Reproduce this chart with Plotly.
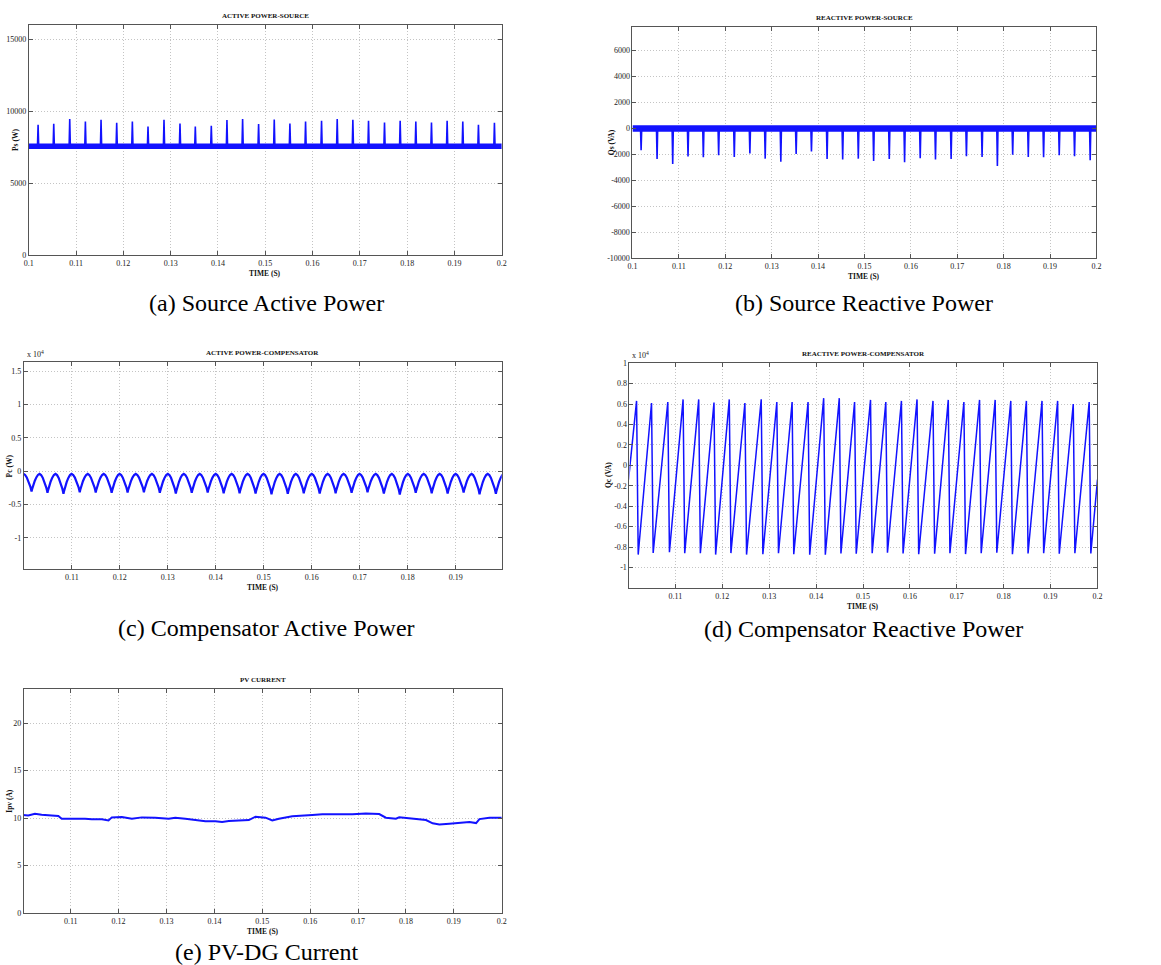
import plotly.graph_objects as go

# ------------------------------------------------------------------ data
# (a) source active power: baseline band and spike peaks (W)
ps_base_w = 7570
ps_spike_t = [0.10197, 0.10528, 0.10866, 0.11197, 0.11528, 0.11859, 0.12190, 0.12521, 0.12859, 0.13197,
              0.13521, 0.13859, 0.14190, 0.14521, 0.14859, 0.15190, 0.15521, 0.15852, 0.16190, 0.16521,
              0.16852, 0.17183, 0.17521, 0.17852, 0.18183, 0.18514, 0.18845, 0.19176, 0.19507, 0.19845]
ps_spike_w = [9070, 9140, 9465, 9302, 9419, 9209, 9302, 8953, 9419, 9163,
              8953, 9000, 9395, 9465, 9116, 9442, 9163, 9302, 9349, 9465,
              9419, 9349, 9233, 9349, 9302, 9233, 9349, 9302, 9070, 9209]

# (b) source reactive power: baseline band and negative spikes (VA)
qs_base_va = 0
qs_spike_t = [0.10186, 0.10530, 0.10867, 0.11197, 0.11527, 0.11857, 0.12194, 0.12530, 0.12860, 0.13197,
              0.13527, 0.13857, 0.14194, 0.14530, 0.14867, 0.15197, 0.15534, 0.15864, 0.16201, 0.16530,
              0.16867, 0.17197, 0.17534, 0.17864, 0.18194, 0.18530, 0.18860, 0.19197, 0.19527, 0.19864]
qs_spike_va = [-1680, -2350, -2740, -2170, -2220, -2070, -2200, -1940, -2330, -2560,
               -1965, -1785, -2350, -2400, -2330, -2510, -2350, -2610, -2300, -2400,
               -2350, -2150, -2200, -2900, -2020, -2200, -2220, -2070, -2150, -2460]

# (c) compensator active power (x 10^4 W): cusp instants and depths, arch top
pc_cusp_t = [0.09828, 0.10162, 0.10494, 0.10827, 0.11166, 0.11499, 0.11831, 0.12163, 0.12503, 0.12835,
             0.13168, 0.13500, 0.13832, 0.14165, 0.14497, 0.14830, 0.15162, 0.15501, 0.15834, 0.16166,
             0.16498, 0.16831, 0.17163, 0.17503, 0.17835, 0.18167, 0.18500, 0.18832, 0.19165, 0.19497,
             0.19837, 0.20171]
pc_cusp_v = [-0.31, -0.305, -0.325, -0.34, -0.315, -0.32, -0.325, -0.32, -0.315, -0.325,
             -0.335, -0.325, -0.32, -0.33, -0.33, -0.335, -0.345, -0.34, -0.33, -0.335,
             -0.33, -0.325, -0.315, -0.335, -0.35, -0.325, -0.33, -0.335, -0.32, -0.345,
             -0.34, -0.33]
pc_top_v = -0.04
pc_arch_phase = [0.0, 0.03, 0.07, 0.12, 0.2, 0.3, 0.4, 0.5, 0.6, 0.7, 0.8, 0.88, 0.93, 0.97, 1.0]
pc_arch_frac = [1.0, 0.88, 0.74, 0.59, 0.40, 0.20, 0.06, 0.0, 0.06, 0.20, 0.40, 0.59, 0.74, 0.88, 1.0]

# (d) compensator reactive power (x 10^4 VA): sawtooth peaks / troughs
qc_start_t, qc_start_v = 0.1, -0.14
qc_end_t, qc_end_v = 0.2, -0.14
qc_peak_t = [0.10171, 0.10490, 0.10837, 0.11163, 0.11496, 0.11822, 0.12148, 0.12481, 0.12829, 0.13162,
             0.13488, 0.13828, 0.14161, 0.14494, 0.14820, 0.15160, 0.15486, 0.15819, 0.16152, 0.16492,
             0.16818, 0.17151, 0.17485, 0.17818, 0.18151, 0.18484, 0.18817, 0.19150, 0.19483, 0.19823]
qc_peak_v = [0.63, 0.61, 0.62, 0.645, 0.645, 0.615, 0.645, 0.61, 0.647, 0.62,
             0.62, 0.62, 0.657, 0.657, 0.62, 0.64, 0.62, 0.63, 0.645, 0.63,
             0.64, 0.62, 0.64, 0.64, 0.63, 0.63, 0.63, 0.63, 0.60, 0.62]
qc_trough_v = [-0.873, -0.856, -0.85, -0.86, -0.86, -0.873, -0.858, -0.873, -0.87, -0.86,
               -0.87, -0.875, -0.875, -0.862, -0.865, -0.86, -0.855, -0.862, -0.87, -0.865,
               -0.86, -0.868, -0.86, -0.855, -0.87, -0.862, -0.86, -0.865, -0.86, -0.862]
qc_drop_s = 0.00035

# (e) PV current (A)
ipv_t = [0.1, 0.10114, 0.10253, 0.10393, 0.10602, 0.10742, 0.10812, 0.10951, 0.11160, 0.11300,
         0.11440, 0.11649, 0.11789, 0.11858, 0.12068, 0.12277, 0.12486, 0.12765, 0.13045, 0.13184,
         0.13393, 0.13603, 0.13812, 0.14021, 0.14161, 0.14301, 0.14580, 0.14719, 0.14859, 0.15068,
         0.15208, 0.15347, 0.15626, 0.15836, 0.16045, 0.16254, 0.16534, 0.16882, 0.17162, 0.17301,
         0.17441, 0.17580, 0.17790, 0.17859, 0.18138, 0.18418, 0.18557, 0.18697, 0.18906, 0.19115,
         0.19325, 0.19464, 0.19534, 0.19743, 0.2]
ipv_a = [10.32, 10.28, 10.46, 10.35, 10.28, 10.21, 9.93, 9.93, 10.0, 9.93,
         9.86, 9.86, 9.75, 10.07, 10.1, 9.93, 10.07, 10.04, 9.93, 10.04,
         9.93, 9.79, 9.65, 9.65, 9.58, 9.68, 9.79, 9.79, 10.14, 10.04,
         9.75, 9.93, 10.18, 10.28, 10.32, 10.39, 10.39, 10.39, 10.49, 10.49,
         10.42, 10.04, 9.93, 10.07, 9.96, 9.79, 9.44, 9.33, 9.40, 9.47,
         9.58, 9.47, 9.89, 10.04, 10.04]

# ticks
time_ticks = [0.1, 0.11, 0.12, 0.13, 0.14, 0.15, 0.16, 0.17, 0.18, 0.19, 0.2]
time_labels = ["0.1", "0.11", "0.12", "0.13", "0.14", "0.15", "0.16", "0.17", "0.18", "0.19", "0.2"]
ps_ticks = [0, 5000, 10000, 15000]
qs_ticks = [-10000, -8000, -6000, -4000, -2000, 0, 2000, 4000, 6000]
pc_ticks = [-1, -0.5, 0, 0.5, 1, 1.5]
pc_labels = ["-1", "-0.5", "0", "0.5", "1", "1.5"]
qc_ticks = [-1, -0.8, -0.6, -0.4, -0.2, 0, 0.2, 0.4, 0.6, 0.8, 1]
qc_labels = ["-1", "-0.8", "-0.6", "-0.4", "-0.2", "0", "0.2", "0.4", "0.6", "0.8", "1"]
ipv_ticks = [0, 5, 10, 15, 20]

titles = ["ACTIVE POWER-SOURCE", "REACTIVE POWER-SOURCE", "ACTIVE POWER-COMPENSATOR",
          "REACTIVE POWER-COMPENSATOR", "PV CURRENT"]
ylabels = ["Ps (W)", "Qs (VA)", "Pc (W)", "Qc (VA)", "Ipv (A)"]
captions = ["(a) Source Active Power", "(b) Source Reactive Power", "(c) Compensator Active Power",
            "(d) Compensator Reactive Power", "(e) PV-DG Current"]

# ------------------------------------------------------------------ build
W, H = 1161, 965
BLUE = "rgb(18,18,255)"
SPIKE_HALF = 0.00013

# the page photograph shows the figure slightly reduced around a small border;
# map target pixel positions to figure pixels to compensate
SX, OX = 0.9935, 3.2
SY, OY = 0.991, 2.8


def fx(p):
    return (p / SX - OX) / W


def fy(p):
    return 1 - (p / SY - OY) / H


def spikes(base, times, vals):
    xs, ys = [], []
    for t, v in zip(times, vals):
        xs += [t - SPIKE_HALF, t, t + SPIKE_HALF, None]
        ys += [base, v, base, None]
    return xs, ys


fig = go.Figure()

# (a)
fig.add_trace(go.Scatter(x=[time_ticks[0], time_ticks[-1]], y=[ps_base_w, ps_base_w], mode="lines",
                         line=dict(color=BLUE, width=5.5), xaxis="x", yaxis="y", showlegend=False))
sx, sy = spikes(ps_base_w, ps_spike_t, ps_spike_w)
fig.add_trace(go.Scatter(x=sx, y=sy, mode="lines", line=dict(color=BLUE, width=1.6),
                         xaxis="x", yaxis="y", showlegend=False))

# (b)
fig.add_trace(go.Scatter(x=[time_ticks[0], time_ticks[-1]], y=[qs_base_va, qs_base_va], mode="lines",
                         line=dict(color=BLUE, width=6.5), xaxis="x2", yaxis="y2", showlegend=False))
sx, sy = spikes(qs_base_va, qs_spike_t, qs_spike_va)
fig.add_trace(go.Scatter(x=sx, y=sy, mode="lines", line=dict(color=BLUE, width=1.6),
                         xaxis="x2", yaxis="y2", showlegend=False))

# (c) arches between consecutive cusps
cx, cy = [], []
for i in range(len(pc_cusp_t) - 1):
    t0, t1 = pc_cusp_t[i], pc_cusp_t[i + 1]
    v0, v1 = pc_cusp_v[i], pc_cusp_v[i + 1]
    for ph, fr in zip(pc_arch_phase, pc_arch_frac):
        if i > 0 and ph == 0.0:
            continue
        depth = v0 if ph < 0.5 else v1
        cx.append(t0 + ph * (t1 - t0))
        cy.append(pc_top_v + fr * (depth - pc_top_v))
fig.add_trace(go.Scatter(x=cx, y=cy, mode="lines", line=dict(color=BLUE, width=2.2),
                         xaxis="x3", yaxis="y3", showlegend=False))

# (d) sawtooth
dx, dy = [qc_start_t], [qc_start_v]
for t, pv, tv in zip(qc_peak_t, qc_peak_v, qc_trough_v):
    dx += [t, t + qc_drop_s]
    dy += [pv, tv]
dx.append(qc_end_t)
dy.append(qc_end_v)
fig.add_trace(go.Scatter(x=dx, y=dy, mode="lines", line=dict(color=BLUE, width=1.5),
                         xaxis="x4", yaxis="y4", showlegend=False))

# (e)
fig.add_trace(go.Scatter(x=ipv_t, y=ipv_a, mode="lines", line=dict(color=BLUE, width=2.0),
                         xaxis="x5", yaxis="y5", showlegend=False))

# ------------------------------------------------------------------ axes
# plot-area boxes in target pixels: (left, right, top, bottom)
boxes = [(27, 501, 24, 254), (632, 1097, 26, 257), (22, 501, 361, 568),
         (629, 1098, 362, 587), (22, 501, 688, 912)]
xranges = [[0.1, 0.2], [0.1, 0.2], [0.1, 0.1996], [0.1002, 0.2], [0.1002, 0.2]]
yranges = [[0, 16000], [-10000, 7800], [-1.47, 1.64], [-1.2, 1.0], [0, 23.6]]
xtick_sets = [(time_ticks, time_labels), (time_ticks, time_labels),
              (time_ticks[1:10], time_labels[1:10]), (time_ticks[1:], time_labels[1:]),
              (time_ticks[1:], time_labels[1:])]
ytick_sets = [(ps_ticks, [str(v) for v in ps_ticks]), (qs_ticks, [str(v) for v in qs_ticks]),
              (pc_ticks, pc_labels), (qc_ticks, qc_labels), (ipv_ticks, [str(v) for v in ipv_ticks])]

tickfont = dict(family="Liberation Serif", size=8, color="#222")
axis_common = dict(showline=True, linecolor="#555", linewidth=1, mirror="ticks", ticks="inside",
                   ticklen=4, tickcolor="#555", showgrid=True, gridcolor="#c4c4c4", griddash="1px,2px",
                   gridwidth=1, zeroline=False, tickfont=tickfont, fixedrange=True)

layout_axes = {}
annotations = []
for i, (l, r, t, b) in enumerate(boxes):
    n = "" if i == 0 else str(i + 1)
    layout_axes["xaxis" + n] = dict(axis_common, domain=[fx(l), fx(r)], range=xranges[i],
                                    anchor="y" + n, tickvals=xtick_sets[i][0], ticktext=xtick_sets[i][1])
    layout_axes["yaxis" + n] = dict(axis_common, domain=[fy(b), fy(t)], range=yranges[i],
                                    anchor="x" + n, tickvals=ytick_sets[i][0], ticktext=ytick_sets[i][1])
    cxp = (l + r) / 2
    annotations.append(dict(text="<b>" + titles[i] + "</b>", x=fx(cxp), y=fy(t - 9),
                            xref="paper", yref="paper", showarrow=False, xanchor="center",
                            yanchor="middle", font=dict(family="Liberation Serif", size=7, color="#111")))
    annotations.append(dict(text="<b>TIME (S)</b>", x=fx(cxp), y=fy(b + 18.5),
                            xref="paper", yref="paper", showarrow=False, xanchor="center",
                            yanchor="middle", font=dict(family="Liberation Serif", size=7.5, color="#111")))
    annotations.append(dict(text="<b>" + ylabels[i] + "</b>", x=fx(l - (14 if i in (0, 2, 4) else 21)),
                            y=fy((t + b) / 2), xref="paper", yref="paper", showarrow=False,
                            xanchor="center", yanchor="middle", textangle=-90,
                            font=dict(family="Liberation Serif", size=7.5, color="#111")))

# captions
cap_pos = [(265, 302), (864, 302), (265, 627), (864, 628), (265, 951)]
for txt, (px, py) in zip(captions, cap_pos):
    annotations.append(dict(text=txt, x=fx(px), y=fy(py), xref="paper", yref="paper",
                            showarrow=False, xanchor="center", yanchor="middle",
                            font=dict(family="Liberation Serif", size=24, color="#000")))

# x 10^4 multipliers
for px, py in [(23, 353), (630, 354)]:
    annotations.append(dict(text="x 10<sup>4</sup>", x=fx(px), y=fy(py), xref="paper", yref="paper",
                            showarrow=False, xanchor="left", yanchor="middle",
                            font=dict(family="Liberation Serif", size=8, color="#222")))

fig.update_layout(width=W, height=H, margin=dict(l=0, r=0, t=0, b=0), paper_bgcolor="white",
                  plot_bgcolor="white", showlegend=False, annotations=annotations, **layout_axes)

fig.write_html("out.html", config={"displayModeBar": False},
               post_script="document.body.style.margin='0px';document.body.style.overflow='hidden';")
